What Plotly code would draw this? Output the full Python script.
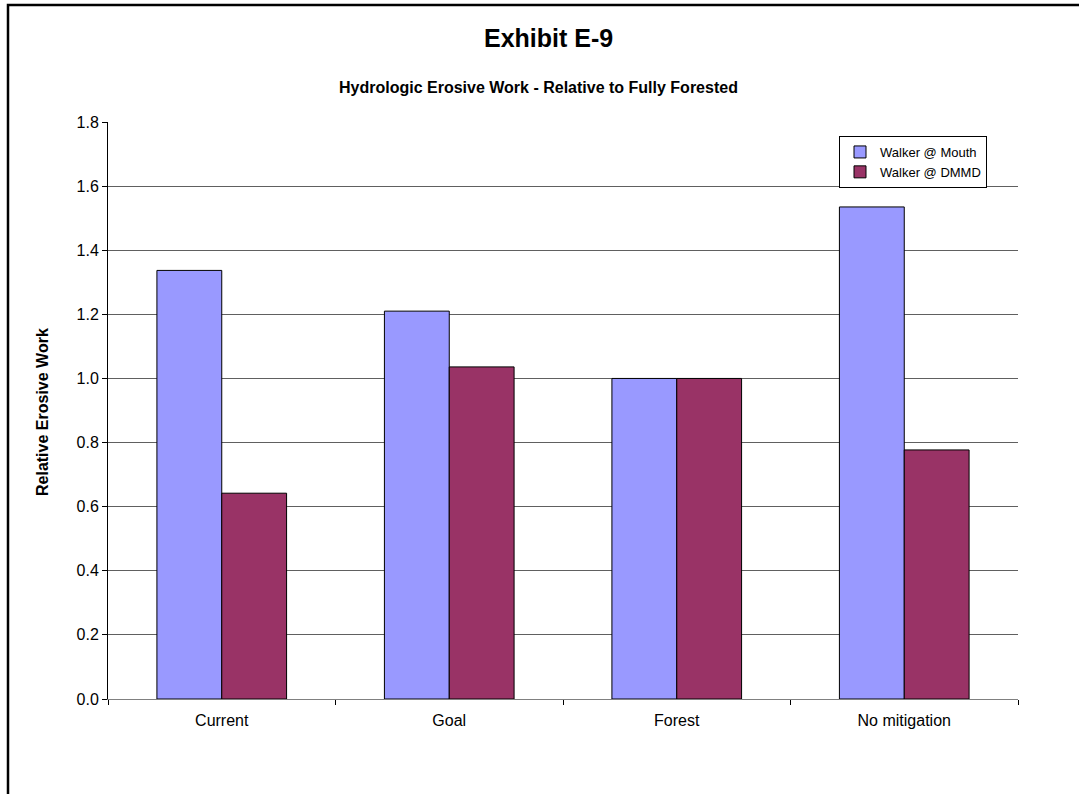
import plotly.graph_objects as go

categories = ["Current", "Goal", "Forest", "No mitigation"]
mouth = [1.337, 1.210, 1.0, 1.535]
dmmd = [0.642, 1.036, 1.0, 0.777]
series_names = ["Walker @ Mouth", "Walker @ DMMD"]
y_ticks = [0.0, 0.2, 0.4, 0.6, 0.8, 1.0, 1.2, 1.4, 1.6, 1.8]
y_labels = [f"{v:.1f}" for v in y_ticks]

L, R, T, B = 108, 1018, 122, 699
W, H = 1079, 794
pw, ph = R - L, B - T

def px(x):
    return (x - L) / pw

def py(y):
    return (B - y) / ph

fig = go.Figure()
fig.add_trace(go.Bar(x=categories, y=mouth, name=series_names[0],
                     marker=dict(color="#9999FF", line=dict(color="#000000", width=1))))
fig.add_trace(go.Bar(x=categories, y=dmmd, name=series_names[1],
                     marker=dict(color="#993366", line=dict(color="#000000", width=1))))

font = "Liberation Sans, Arial, sans-serif"
fig.update_layout(
    width=W, height=H,
    margin=dict(l=L, r=W - R, t=T, b=H - B),
    paper_bgcolor="white", plot_bgcolor="white",
    barmode="group", bargap=0.43, bargroupgap=0,
    font=dict(family=font, size=16, color="#000000"),
    showlegend=True,
    legend=dict(x=px(839), y=py(136), xanchor="left", yanchor="top",
                bordercolor="#000000", borderwidth=1, bgcolor="white",
                font=dict(size=13), tracegroupgap=0, itemwidth=30,
                traceorder="normal"),
    xaxis=dict(type="category", tickson="boundaries", ticks="outside", ticklen=5,
               tickcolor="#000000", showline=True, linecolor="#808080", linewidth=1,
               showgrid=False, tickfont=dict(size=16), ticklabelstandoff=7),
    yaxis=dict(range=[0, 1.8], tickvals=y_ticks, ticktext=y_labels, ticks="outside",
               ticklen=5, tickcolor="#000000", showline=True, linecolor="#000000",
               linewidth=1, showgrid=True, gridcolor="#606060", gridwidth=1,
               zeroline=False, tickfont=dict(size=16)),
    annotations=[
        dict(text="<b>Exhibit E-9</b>", x=px(548), y=py(38), xref="paper", yref="paper",
             showarrow=False, font=dict(size=25), xanchor="center", yanchor="middle"),
        dict(text="<b>Hydrologic Erosive Work - Relative to Fully Forested</b>",
             x=px(538), y=py(87), xref="paper", yref="paper", showarrow=False,
             font=dict(size=16), xanchor="center", yanchor="middle"),
        dict(text="<b>Relative Erosive Work</b>", x=px(42), y=py(412), xref="paper",
             yref="paper", showarrow=False, textangle=-90, font=dict(size=16),
             xanchor="center", yanchor="middle"),
    ],
    shapes=[
        dict(type="rect", xref="paper", yref="paper", x0=px(8), x1=px(1100),
             y0=py(820), y1=py(5), line=dict(color="#000000", width=2.5)),
    ],
)

fig.write_html("out.html", config={"displayModeBar": False},
               post_script="document.body.style.margin='0';")
